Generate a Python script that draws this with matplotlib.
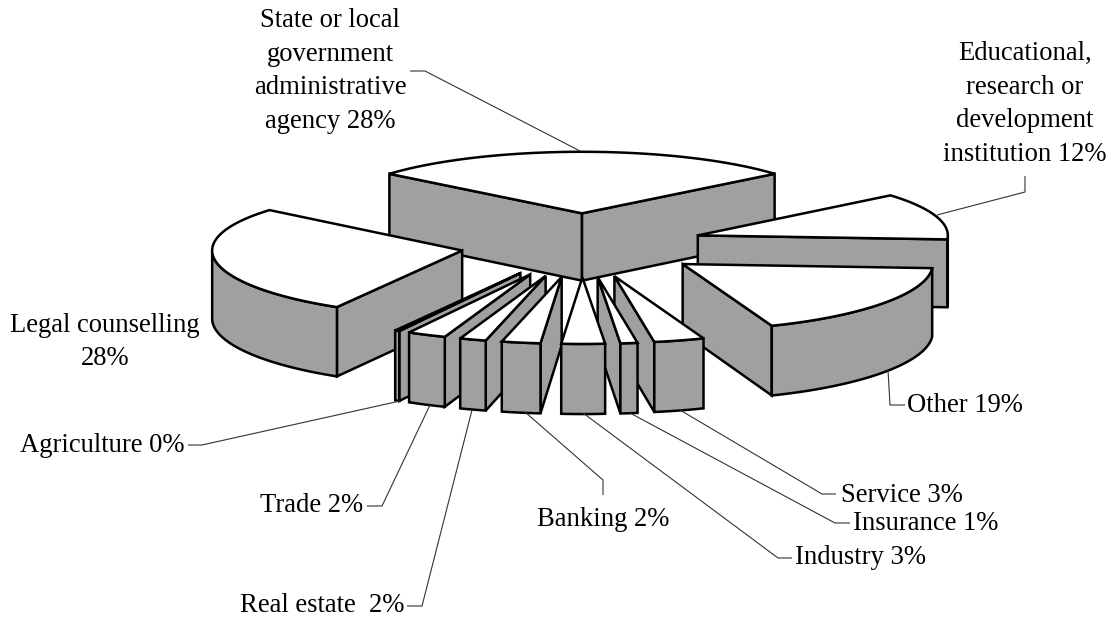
import numpy as np
import matplotlib
matplotlib.use("Agg")
import matplotlib.pyplot as plt
from matplotlib.patches import Polygon

# Estimated shares (clockwise from the first slice)
categories = ["State", "Educational", "Other", "Service", "Insurance", "Industry",
              "Banking", "Real estate", "Trade", "Agriculture", "Legal"]
shares = [28.0, 12.0, 18.2, 3.25, 1.1, 2.8, 2.5, 1.7, 2.5, 0.3, 27.65]
explode = [0.5, 0.487, 0.5, 0.5, 0.5, 0.5, 0.5, 0.5, 0.5, 0.5, 0.487]

labels = ["State or local\ngovernment\nadministrative\nagency 28%",
          "Educational,\nresearch or\ndevelopment\ninstitution 12%",
          "Other 19%", "Service 3%", "Insurance 1%", "Industry 3%", "Banking 2%",
          "Real estate  2%", "Trade 2%", "Agriculture 0%", "Legal counselling\n28%"]
label_pos = [(330, 71, "center"), (1025, 104, "center"), (907, 405, "left"), (841, 495, "left"),
             (853, 523, "left"), (795, 558, "left"), (537, 519, "left"), (404, 606, "right"),
             (363, 506, "right"), (184, 446, "right"), (105, 342, "center")]
leaders = [[(580, 151), (425, 71), (410, 71)],
           [(937, 215), (1025, 192), (1025, 176)],
           [(888, 370), (890, 405), (905, 405)],
           [(680, 410), (822, 494), (836, 494)],
           [(630, 413), (835, 523), (850, 523)],
           [(583, 413), (778, 558), (792, 558)],
           [(525, 412), (603, 480), (603, 495)],
           [(472, 410), (422, 606), (407, 606)],
           [(430, 405), (382, 506), (367, 506)],
           [(400, 401), (202, 445), (188, 445)]]

START = 140.4
CX, CY = 582.0, 245.0
RX, RY = 250.0, 64.0
HEIGHT = 68.0
PERSP = 0.02
GREY = "#a0a0a0"
LW = 1.8


def project(x, y, z=0.0):
    x, y = np.asarray(x, float), np.asarray(y, float)
    s = 1 / (1 + PERSP * y)
    return CX + RX * x, CY - RY * y * s + HEIGHT * z * s


fig = plt.figure(figsize=(11.12, 6.21), dpi=100)
ax = fig.add_axes([0, 0, 1, 1])
ax.set_xlim(0, 1112)
ax.set_ylim(621, 0)
ax.axis("off")

fractions = np.array(shares) / np.sum(shares)
ends = START - np.cumsum(fractions) * 360
starts = ends + fractions * 360

slices = []
for a1, a2, e in zip(starts, ends, explode):
    mid = np.radians((a1 + a2) / 2)
    slices.append((a1, a2, e * np.cos(mid), e * np.sin(mid)))
order = sorted(range(len(slices)), key=lambda i: -slices[i][3])


def poly(xs, ys, fc, z):
    ax.add_patch(Polygon(np.column_stack([xs, ys]), closed=True, facecolor=fc,
                         edgecolor="black", linewidth=LW, joinstyle="miter", zorder=z))


zorder = 2
for i in order:
    a1, a2, ox, oy = slices[i]
    # radial walls
    for a, visible in ((a1, np.cos(np.radians(a1)) < 0), (a2, np.cos(np.radians(a2)) > 0)):
        if visible:
            r = np.radians(a)
            px = np.array([ox, ox + np.cos(r)])
            py = np.array([oy, oy + np.sin(r)])
            xt, yt = project(px, py, 0)
            xb, yb = project(px, py, 1)
            poly(np.r_[xt, xb[::-1]], np.r_[yt, yb[::-1]], GREY, zorder)
            zorder += 1
    # rim walls (front-facing part of the arc)
    th = np.radians(np.linspace(a2, a1, 200))
    th = th[np.sin(th) < 0]
    if len(th) > 1:
        xt, yt = project(ox + np.cos(th), oy + np.sin(th), 0)
        xb, yb = project(ox + np.cos(th), oy + np.sin(th), 1)
        poly(np.r_[xt, xb[::-1]], np.r_[yt, yb[::-1]], GREY, zorder)
        zorder += 1
    # top
    th = np.radians(np.linspace(a2, a1, 200))
    x, y = project(np.r_[ox, ox + np.cos(th)], np.r_[oy, oy + np.sin(th)])
    poly(x, y, "white", zorder)
    zorder += 1

for pts in leaders:
    p = np.array(pts)
    ax.plot(p[:, 0], p[:, 1], color="#333333", lw=0.8, zorder=zorder + 1, solid_capstyle="butt")

for text, (x, y, ha) in zip(labels, label_pos):
    ax.text(x, y, text, ha=ha, va="center", family="Liberation Serif", fontsize=19.2,
            linespacing=1.45, color="black", zorder=zorder + 2)

fig.savefig("out.png", dpi=100)
